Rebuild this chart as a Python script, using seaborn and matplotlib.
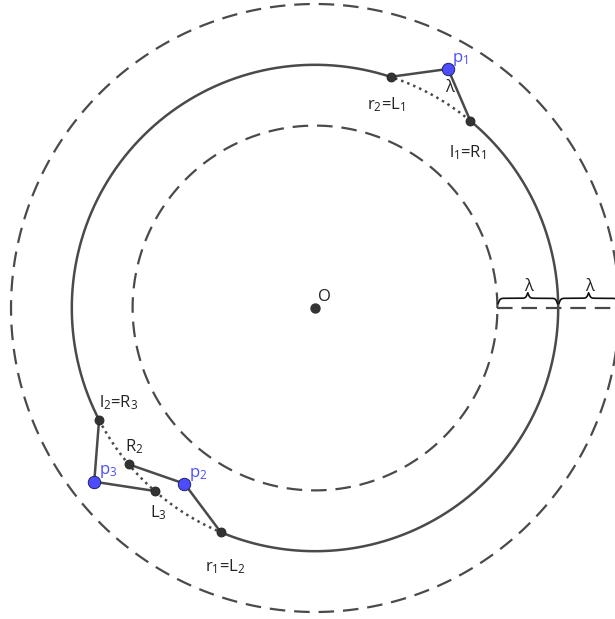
import numpy as np
import pandas as pd
import matplotlib
matplotlib.use("Agg")
import matplotlib.pyplot as plt
import seaborn as sns

# --- data (center O at origin, lambda = 1) ---
circle_radii = [3, 4, 5]          # inner dashed, solid, outer dashed
lam = 1

# named points: angle (deg), radius
point_names = ["p1", "L1", "R1", "p2", "L2", "R2", "p3", "L3", "R3"]
point_angles = [60.9, 71.9, 50.3, 233.4, 247.2, 220.0, 218.2, 228.8, 207.4]
point_radii = [4.5, 4.0, 4.0, 3.6, 4.0, 4.0, 4.62, 4.0, 4.0]
blue_points = ["p1", "p2", "p3"]

# polygon chains L - p - R
chains = [["L1", "p1", "R1"], ["L2", "p2", "R2"], ["R3", "p3", "L3"]]
# dotted arcs on the solid circle (start, end angle)
dotted_arcs = [(50.3, 71.9), (207.4, 247.2)]

labels = ["p$_1$", "λ", "r$_2$=L$_1$", "l$_1$=R$_1$", "O", "l$_2$=R$_3$",
          "R$_2$", "p$_2$", "p$_3$", "L$_3$", "r$_1$=L$_2$"]
label_anchor = ["p1", "p1", "L1", "R1", "O", "R3", "R2", "p2", "p3", "L3", "L2"]
label_offset_px = [(4, 7), (-3, -23), (-24, -32), (-21, -36), (3, 7), (0, 13),
                   (-4, 13), (5, 7), (5, 8), (-5, -26), (-16, -39)]

pts = pd.DataFrame({
    "name": point_names,
    "x": np.array(point_radii) * np.cos(np.radians(point_angles)),
    "y": np.array(point_radii) * np.sin(np.radians(point_angles)),
})
pts["kind"] = np.where(pts["name"].isin(blue_points), "blue", "dark")
pos = {r["name"]: (r["x"], r["y"]) for _, r in pts.iterrows()}
pos["O"] = (0.0, 0.0)

GRAY = "#4a4a4a"
BLUE = "#4d4dff"

sns.set_theme(style="white")
plt.rcParams["font.family"] = ["Open Sans", "DejaVu Sans"]
plt.rcParams["mathtext.default"] = "regular"

fig = plt.figure(figsize=(6.15, 6.19), dpi=100)
ax = fig.add_axes([0, 0, 1, 1])
ax.set_xlim(-315 / 60.8, 300 / 60.8)
ax.set_ylim(-311 / 60.8, 308 / 60.8)
ax.set_aspect("equal")
ax.axis("off")


def arc(r, a0, a1, n=400):
    t = np.radians(np.linspace(a0, a1, n))
    return pd.DataFrame({"x": r * np.cos(t), "y": r * np.sin(t)})


# dashed circles
for r in [circle_radii[0], circle_radii[2]]:
    d = arc(r, 0, 360, 800)
    sns.lineplot(data=d, x="x", y="y", sort=False, estimator=None, ax=ax,
                 color=GRAY, lw=1.6, linestyle=(0, (7, 4)))

# solid circle, skipping dotted arcs
R = circle_radii[1]
solid_parts = [(dotted_arcs[0][1], dotted_arcs[1][0]),
               (dotted_arcs[1][1], dotted_arcs[0][0] + 360)]
for a0, a1 in solid_parts:
    sns.lineplot(data=arc(R, a0, a1), x="x", y="y", sort=False, estimator=None,
                 ax=ax, color=GRAY, lw=1.8)
for a0, a1 in dotted_arcs:
    sns.lineplot(data=arc(R, a0, a1, 100), x="x", y="y", sort=False, estimator=None,
                 ax=ax, color=GRAY, lw=1.8, linestyle=(0, (1, 1.6)))

# chains
for ch in chains:
    d = pd.DataFrame({"x": [pos[c][0] for c in ch], "y": [pos[c][1] for c in ch]})
    sns.lineplot(data=d, x="x", y="y", sort=False, estimator=None, ax=ax,
                 color=GRAY, lw=1.8)

# horizontal dashed line from inner circle to the edge
hl = pd.DataFrame({"x": [circle_radii[0], circle_radii[2] + 0.5], "y": [0, 0]})
sns.lineplot(data=hl, x="x", y="y", sort=False, estimator=None, ax=ax,
             color=GRAY, lw=1.6, linestyle=(0, (7, 4)))


def brace(x0, x1, y, h):
    n = 201
    x = np.linspace(x0, x1, n)
    xh = x[: n // 2 + 1]
    beta = 60.0 / (x1 - x0)
    yh = 1 / (1 + np.exp(-beta * (xh - xh[0]))) + 1 / (1 + np.exp(-beta * (xh - xh[-1])))
    yy = np.concatenate((yh, yh[-2::-1]))
    yy = y + (yy - yy.min()) / (yy.max() - yy.min()) * h
    sns.lineplot(x=x, y=yy, sort=False, estimator=None, ax=ax, color="#111111", lw=1.2)


for k in range(2):
    x0 = circle_radii[0] + k * lam + 0.01
    brace(x0, x0 + lam - 0.02, 0.07, 0.18)
    ax.text(x0 + lam / 2, 0.28, "λ", ha="center", va="baseline", fontsize=12, color="#222222")

# points
ax.scatter([0], [0], s=42, color="#333333", zorder=5)
dark = pts[pts["kind"] == "dark"]
blue = pts[pts["kind"] == "blue"]
sns.scatterplot(data=dark, x="x", y="y", ax=ax, s=42, color="#333333",
                edgecolor="#222222", linewidth=0.6, zorder=5)
sns.scatterplot(data=blue, x="x", y="y", ax=ax, s=80, color=BLUE,
                edgecolor="#222266", linewidth=0.7, zorder=6)

# labels
for lab, anc, (dx, dy) in zip(labels, label_anchor, label_offset_px):
    col = BLUE if lab.startswith("p") else "#222222"
    ax.annotate(lab, xy=pos[anc], xytext=(dx * 0.72, dy * 0.72), textcoords="offset points",
                ha="left", va="baseline", fontsize=12, color=col)

ax.set_xlabel("")
ax.set_ylabel("")
plt.savefig("out.png", dpi=100)
